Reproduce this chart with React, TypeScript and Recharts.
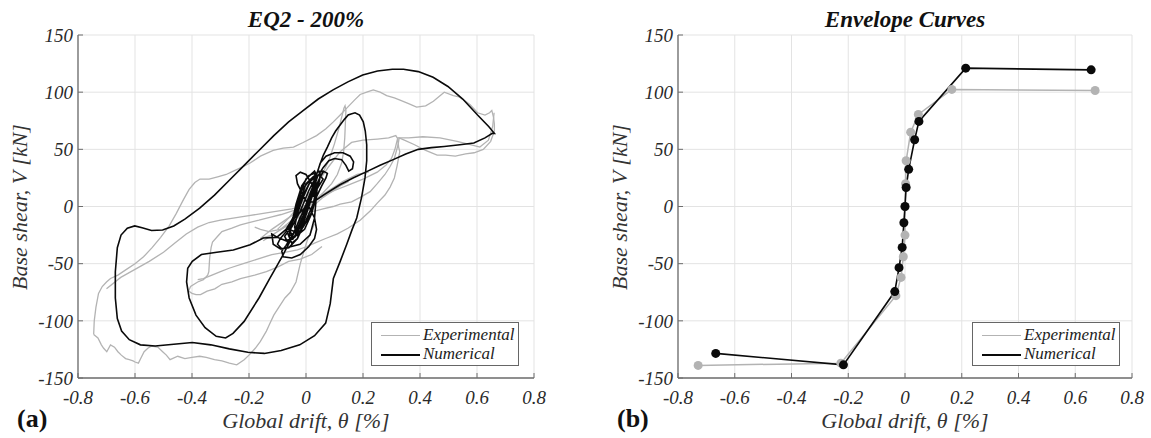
import React from 'react';
import { LineChart, Line, XAxis, YAxis, CartesianGrid, Legend } from 'recharts';

type P = [number, number];

// ---------- axis ticks ----------
const xTicks = [-0.8, -0.6, -0.4, -0.2, 0, 0.2, 0.4, 0.6, 0.8];
const yTicks = [-150, -100, -50, 0, 50, 100, 150];

// ---------- panel (a): EQ2 - 200% hysteresis ----------
// Numerical (black) path in pieces
const numTangle: P[] = [
  [0, 0], [0.02, 12], [0.035, 24], [0.03, 29], [0.01, 27], [-0.015, 18], [-0.035, 2], [-0.05, -15],
  [-0.06, -26], [-0.05, -32], [-0.03, -28], [-0.01, -15], [0.01, 0], [0.03, 15], [0.05, 26], [0.06, 30],
  [0.045, 31], [0.02, 24], [-0.01, 10], [-0.04, -8], [-0.07, -22], [-0.09, -28], [-0.1, -33], [-0.085, -37],
  [-0.06, -36], [-0.03, -28], [0, -12], [0.03, 5], [0.055, 18], [0.07, 25], [0.075, 29], [0.06, 31],
];
const numCrescent: P[] = [
  [0.04, 30], [0.05, 38], [0.07, 44], [0.1, 47], [0.13, 47], [0.155, 44], [0.167, 39], [0.163, 33],
  [0.15, 31], [0.14, 36], [0.125, 41], [0.1, 42], [0.08, 40], [0.06, 34], [0.04, 26], [0.02, 15],
];
const numTangle2: P[] = [
  [0, 2], [-0.02, -10], [-0.045, -24], [-0.07, -34], [-0.085, -39], [-0.08, -44], [-0.05, -45],
  [-0.02, -42], [0.01, -35], [0.03, -28], [0.037, -20], [0.03, -10], [0.01, 0], [-0.01, 10], [-0.03, 20],
  [-0.035, 27], [-0.02, 30], [0, 28], [0.02, 20], [0.03, 8], [0.02, -5], [-0.01, -18], [-0.04, -27],
  [-0.07, -30], [-0.1, -27], [-0.12, -24], [-0.115, -33], [-0.09, -37], [-0.068, -36], [-0.021, -33],
  [0.014, -25], [0.03, -10], [0.035, 5], [0.04, 18], [0.025, 26], [0, 20], [-0.02, 5], [-0.04, -10],
  [-0.06, -20], [-0.04, -22], [-0.01, -12], [0.01, 0],
];
const numTangle3: P[] = [
  [0.025, 14], [0.04, 26], [0.03, 31], [0, 24], [-0.025, 8], [-0.045, -10], [-0.055, -22], [-0.045, -28],
  [-0.02, -18], [0.005, -2], [0.02, 10], [0.045, 20], [0.05, 28], [0.035, 26], [0.01, 14], [-0.02, -4],
  [-0.05, -18], [-0.075, -26], [-0.065, -31], [-0.04, -26], [-0.01, -10], [0.015, 6], [0.04, 16],
  [0.06, 24], [0.045, 28], [0.015, 22], [-0.01, 8], [-0.03, -6], [-0.04, -18], [-0.03, -25],
  [-0.005, -20], [0.02, -6], [0.035, 8], [0.03, 18], [0.01, 22], [-0.015, 14], [-0.03, 0], [-0.05, -12],
  [-0.07, -20], [-0.06, -26], [-0.035, -22], [-0.01, -8], [0.01, 4],
];
const numLowerBranch: P[] = [
  [0.026, 4], [0.061, 10], [0.119, 19], [0.165, 25], [0.213, 30.5], [0.26, 36], [0.306, 41], [0.35, 46],
  [0.394, 50], [0.44, 51.5], [0.485, 52.5], [0.54, 54], [0.589, 55.5], [0.628, 60], [0.654, 64], [0.661, 64],
];
const numUpperBranch: P[] = [
  [0.641, 70], [0.602, 80], [0.55, 94], [0.498, 105], [0.446, 113], [0.394, 118], [0.342, 120],
  [0.303, 120], [0.251, 118.5], [0.199, 115], [0.147, 109], [0.095, 102], [0.043, 94], [-0.009, 84],
  [-0.061, 74], [-0.113, 62], [-0.165, 49], [-0.217, 36], [-0.269, 23], [-0.321, 10], [-0.373, -1.5],
  [-0.425, -11], [-0.464, -17], [-0.503, -20.5], [-0.542, -21], [-0.575, -18.5], [-0.601, -17], [-0.627, -19],
];
const numLeftBottom: P[] = [
  [-0.649, -25], [-0.662, -36], [-0.669, -57], [-0.669, -80], [-0.662, -98], [-0.647, -109],
  [-0.62, -116.5], [-0.581, -121], [-0.529, -122], [-0.464, -120.5], [-0.399, -119], [-0.334, -121],
  [-0.269, -124.5], [-0.204, -127.5], [-0.146, -128.5], [-0.087, -126], [-0.022, -121], [0.03, -113],
  [0.069, -102],
];
const numMediumLoop: P[] = [
  [0.085, -85], [0.096, -63], [0.12, -48], [0.143, -33], [0.162, -20], [0.178, -10], [0.195, 8],
  [0.207, 25], [0.213, 40], [0.213, 54], [0.208, 66], [0.201, 74], [0.188, 80], [0.172, 82],
  [0.158, 81], [0.148, 80], [0.134, 76], [0.119, 71], [0.104, 66], [0.09, 60], [0.075, 52],
  [0.061, 45], [0.049, 37], [0.037, 28], [0.02, 13], [0, 0], [-0.021, -10], [-0.05, -27.5],
  [-0.08, -42], [-0.109, -55], [-0.126, -62.5], [-0.165, -80], [-0.217, -100.5], [-0.256, -111],
  [-0.282, -115], [-0.315, -113.5], [-0.354, -106], [-0.386, -95], [-0.41, -80], [-0.419, -66],
  [-0.415, -54], [-0.399, -48], [-0.367, -42], [-0.313, -40], [-0.255, -38], [-0.196, -33.5],
  [-0.15, -27.5], [-0.103, -27], [-0.07, -20], [-0.04, -10], [0, 0],
];

// Experimental (grey) curves
const expUpper: P[] = [
  [-0.745, -112], [-0.743, -100], [-0.737, -88], [-0.728, -76], [-0.715, -70], [-0.7, -66], [-0.686, -63],
  [-0.66, -60], [-0.63, -55], [-0.6, -50], [-0.57, -44], [-0.54, -36], [-0.51, -27], [-0.48, -17],
  [-0.455, -6], [-0.43, 6], [-0.41, 15], [-0.39, 21], [-0.372, 24], [-0.34, 24], [-0.31, 26], [-0.28, 28],
  [-0.255, 31], [-0.22, 35], [-0.196, 38], [-0.16, 44], [-0.115, 49], [-0.08, 51], [-0.044, 52],
  [-0.01, 56], [0.037, 62], [0.07, 68], [0.096, 74], [0.12, 80], [0.143, 86], [0.17, 93], [0.19, 98],
  [0.213, 100], [0.236, 102], [0.26, 100], [0.283, 97], [0.31, 95], [0.33, 93], [0.36, 90], [0.388, 87],
  [0.42, 88], [0.447, 92], [0.485, 100], [0.517, 97], [0.537, 96], [0.56, 92], [0.576, 89], [0.602, 82],
  [0.628, 80], [0.644, 82], [0.652, 84], [0.658, 78], [0.661, 72], [0.661, 66], [0.648, 57], [0.622, 50],
  [0.59, 47], [0.56, 46], [0.524, 44], [0.49, 45], [0.46, 45], [0.42, 49], [0.381, 54], [0.345, 58],
  [0.327, 60], [0.323, 54], [0.31, 42], [0.295, 35], [0.277, 28], [0.25, 20], [0.225, 13], [0.19, 8],
  [0.16, 4], [0.12, 2], [0.095, 0], [0.06, -2], [0.03, -4], [-0.01, -7],
];
const expBottom: P[] = [
  [0.03, -15], [0.004, -30], [-0.02, -50], [-0.035, -66], [-0.055, -75], [-0.074, -80], [-0.095, -88],
  [-0.113, -95], [-0.13, -104], [-0.139, -109], [-0.16, -118], [-0.178, -124], [-0.2, -130], [-0.217, -134],
  [-0.243, -138.5], [-0.269, -137], [-0.295, -135], [-0.321, -134], [-0.35, -132], [-0.373, -131],
  [-0.4, -132], [-0.425, -133], [-0.45, -131], [-0.477, -134], [-0.49, -130], [-0.503, -127], [-0.52, -123],
  [-0.542, -122], [-0.555, -124], [-0.568, -127], [-0.58, -133], [-0.588, -137], [-0.6, -136],
  [-0.607, -135], [-0.62, -134], [-0.633, -133], [-0.648, -130], [-0.66, -127], [-0.672, -123],
  [-0.686, -121], [-0.699, -127], [-0.71, -124], [-0.718, -121], [-0.73, -115], [-0.745, -112],
];
const expMidLow: P[] = [
  [0.056, -35], [0.02, -42], [-0.02, -46], [-0.061, -48], [-0.1, -53], [-0.139, -57], [-0.18, -60],
  [-0.23, -63], [-0.26, -66], [-0.295, -68], [-0.32, -72], [-0.347, -74], [-0.37, -77], [-0.386, -77],
  [-0.4, -76], [-0.412, -74], [-0.405, -70], [-0.38, -66], [-0.36, -64], [-0.345, -60], [-0.341, -57],
  [-0.338, -45], [-0.333, -36], [-0.328, -31], [-0.31, -26], [-0.295, -22], [-0.26, -19], [-0.23, -16],
  [-0.2, -14], [-0.165, -12], [-0.12, -9], [-0.087, -7], [-0.05, -4], [0, 0],
];
const expRightMid: P[] = [
  [0, 2], [0.05, 8], [0.1, 14], [0.15, 19], [0.2, 24], [0.25, 30], [0.28, 36], [0.3, 42], [0.312, 50],
  [0.318, 56], [0.322, 60], [0.325, 52], [0.329, 48], [0.32, 36], [0.31, 25], [0.295, 17], [0.277, 10],
  [0.25, 3], [0.225, -4], [0.19, -12], [0.147, -19], [0.11, -24], [0.069, -28], [0.03, -32], [0.004, -35],
  [-0.03, -38], [-0.07, -40], [-0.12, -42], [-0.17, -46], [-0.22, -50], [-0.27, -54], [-0.3, -57],
  [-0.33, -60], [-0.36, -63], [-0.38, -64],
];
const expSpike: P[] = [
  [-0.1, -20], [-0.06, -10], [-0.02, 2], [0.02, 14], [0.05, 25], [0.08, 40], [0.1, 55], [0.115, 68],
  [0.125, 78], [0.133, 86], [0.137, 88], [0.14, 84], [0.138, 72], [0.136, 60], [0.132, 48], [0.125, 38],
  [0.11, 28], [0.09, 20], [0.06, 12], [0.03, 5], [0, -3], [-0.03, -10], [-0.06, -16], [-0.09, -20],
  [-0.13, -22], [-0.16, -20], [-0.18, -18],
];
const expShelf: P[] = [
  [0, 5], [0.04, 20], [0.08, 35], [0.12, 48], [0.16, 56], [0.2, 58], [0.25, 59], [0.29, 60], [0.315, 62],
  [0.32, 60], [0.36, 60], [0.41, 61], [0.47, 60], [0.53, 57], [0.58, 54], [0.61, 52], [0.64, 58],
  [0.655, 70], [0.66, 82],
];
const expCore: P[] = [
  [-0.15, -30], [-0.1, -22], [-0.05, -12], [0, -2], [0.05, 8], [0.1, 16], [0.15, 22], [0.12, 18],
  [0.06, 8], [0, -5], [-0.06, -16], [-0.12, -25], [-0.16, -28], [-0.12, -20], [-0.05, -8], [0.02, 4],
  [0.08, 14], [0.13, 22], [0.18, 28], [0.22, 30],
];
const expLeftMid: P[] = [
  [-0.7, -72], [-0.65, -62], [-0.6, -55], [-0.55, -48], [-0.5, -40], [-0.46, -32], [-0.42, -24],
  [-0.38, -18], [-0.34, -14], [-0.3, -12], [-0.25, -10], [-0.2, -8], [-0.15, -6], [-0.1, -4],
  [-0.05, -2], [0, 1],
];

// ---------- panel (b): envelope curves ----------
const envExpX = [-0.729, -0.226, -0.032, -0.014, -0.006, 0, 0, 0.002, 0.004, 0.02, 0.047, 0.165, 0.67];
const envExpV = [-139, -137, -78, -62, -44, -25, 0, 20, 40, 65, 80.5, 102.4, 101.5];
const envNumX = [-0.667, -0.217, -0.036, -0.021, -0.01, -0.004, 0, 0.004, 0.013, 0.034, 0.049, 0.214, 0.656];
const envNumV = [-128.5, -138.5, -74.4, -53.5, -35.8, -14.2, 0, 16.6, 32.5, 58.4, 74.4, 121, 119.5];

// ---------- helpers ----------
const rows = (pts: P[]) => pts.map(([x, y]) => ({ x, y }));
const zipRows = (xs: number[], ys: number[]) => xs.map((x, i) => ({ x, y: ys[i] }));

const numericalPath = rows([
  ...numTangle, ...numCrescent, ...numTangle2, ...numTangle3, ...numLowerBranch, ...numUpperBranch,
  ...numLeftBottom, ...numMediumLoop,
]);
const experimentalPaths = [expUpper, expBottom, expMidLow, expRightMid, expSpike, expShelf, expCore, expLeftMid].map(rows);

const FONT = "'Liberation Serif', 'Times New Roman', serif";
const AX = '#6e6e6e';
const GREY = '#b3b3b3';
const BLACK = '#0a0a0a';
const tickStyle = { fontSize: 19, fontStyle: 'italic', fill: '#2a2a2a', fontFamily: FONT };

const LegendBox = () => (
  <div
    style={{
      width: 148, height: 44, boxSizing: 'border-box', border: '1px solid #666', background: '#fff',
      position: 'relative', fontFamily: FONT, fontStyle: 'italic', fontSize: 17, color: '#222',
    }}
  >
    <div style={{ position: 'absolute', left: 9, top: 12, width: 39, height: 0, borderTop: `1.5px solid ${GREY}` }} />
    <div style={{ position: 'absolute', left: 51, top: 3, lineHeight: '17px', whiteSpace: 'nowrap' }}>Experimental</div>
    <div style={{ position: 'absolute', left: 9, top: 31, width: 39, height: 0, borderTop: `2px solid ${BLACK}` }} />
    <div style={{ position: 'absolute', left: 51, top: 22, lineHeight: '17px', whiteSpace: 'nowrap' }}>Numerical</div>
  </div>
);

function axes(yWidth: number) {
  return [
    <CartesianGrid key="g" stroke="#e3e3e3" strokeWidth={1} />,
    <XAxis
      key="xb" type="number" dataKey="x" domain={[-0.8, 0.8]} ticks={xTicks} interval={0} allowDataOverflow
      height={60} axisLine={{ stroke: AX, strokeWidth: 1.3 }} tickLine={{ stroke: AX }} tickSize={-5}
      tickMargin={18} tick={tickStyle} tickFormatter={(v: number) => String(v)}
    />,
    <XAxis
      key="xt" xAxisId="top" orientation="top" type="number" dataKey="x" domain={[-0.8, 0.8]} ticks={xTicks}
      interval={0} height={0} axisLine={{ stroke: AX, strokeWidth: 1.3 }} tickLine={{ stroke: AX }}
      tickSize={-5} tick={false}
    />,
    <YAxis
      key="yl" type="number" domain={[-150, 150]} ticks={yTicks} interval={0} allowDataOverflow width={yWidth}
      axisLine={{ stroke: AX, strokeWidth: 1.3 }} tickLine={{ stroke: AX }} tickSize={-5} tickMargin={10}
      tick={tickStyle}
    />,
    <YAxis
      key="yr" yAxisId="right" orientation="right" type="number" domain={[-150, 150]} ticks={yTicks}
      interval={0} width={0} axisLine={{ stroke: AX, strokeWidth: 1.3 }} tickLine={{ stroke: AX }}
      tickSize={-5} tick={false}
    />,
  ];
}

const textBase: React.CSSProperties = { position: 'absolute', fontFamily: FONT, whiteSpace: 'nowrap' };

function Labels({ cx, yLabelX, tag, tagX, title }: { cx: number; yLabelX: number; tag: string; tagX: number; title: string }) {
  return (
    <>
      <div style={{ ...textBase, left: cx - 200, top: 8, width: 400, textAlign: 'center', fontSize: 23, lineHeight: '23px', fontWeight: 'bold', fontStyle: 'italic', color: '#111' }}>
        {title}
      </div>
      <div style={{ ...textBase, left: cx - 200, top: 410, width: 400, textAlign: 'center', fontSize: 22, lineHeight: '22px', fontStyle: 'italic', color: '#333' }}>
        Global drift, θ [%]
      </div>
      <div style={{ ...textBase, left: yLabelX - 150, top: 207 - 11, width: 300, height: 22, textAlign: 'center', fontSize: 22, lineHeight: '22px', fontStyle: 'italic', color: '#333', transform: 'rotate(-90deg)' }}>
        Base shear, V [kN]
      </div>
      <div style={{ ...textBase, left: tagX, top: 406, fontSize: 26, lineHeight: '26px', fontWeight: 'bold', color: '#111' }}>
        {tag}
      </div>
    </>
  );
}

export default function App() {
  return (
    <div style={{ position: 'absolute', left: 0, top: 0, width: 1151, height: 438, background: '#fff', overflow: 'hidden' }}>
      <div style={{ position: 'absolute', left: 0, top: 0 }}>
        <LineChart width={580} height={438} margin={{ top: 35, right: 46, bottom: 0, left: 0 }}>
          {axes(78)}
          {experimentalPaths.map((d, i) => (
            <Line key={'e' + i} data={d} dataKey="y" type="linear" stroke={GREY} strokeWidth={1.3} dot={false} activeDot={false} isAnimationActive={false} />
          ))}
          <Line data={numericalPath} dataKey="y" type="linear" stroke={BLACK} strokeWidth={1.6} dot={false} activeDot={false} isAnimationActive={false} />
          <Legend layout="horizontal" verticalAlign="middle" align="center" content={() => <LegendBox />} wrapperStyle={{ left: 371, top: 322, width: 148, height: 44 }} />
        </LineChart>
      </div>
      <div style={{ position: 'absolute', left: 580, top: 0 }}>
        <LineChart width={571} height={438} margin={{ top: 35, right: 19, bottom: 0, left: 0 }}>
          {axes(98)}
          <Line data={zipRows(envExpX, envExpV)} dataKey="y" type="linear" stroke={GREY} strokeWidth={1.5}
            dot={{ r: 4.5, fill: GREY, stroke: GREY, strokeWidth: 0 }} activeDot={false} isAnimationActive={false} />
          <Line data={zipRows(envNumX, envNumV)} dataKey="y" type="linear" stroke={BLACK} strokeWidth={1.6}
            dot={{ r: 4.5, fill: BLACK, stroke: BLACK, strokeWidth: 0 }} activeDot={false} isAnimationActive={false} />
          <Legend layout="horizontal" verticalAlign="middle" align="center" content={() => <LegendBox />} wrapperStyle={{ left: 392, top: 322, width: 148, height: 44 }} />
        </LineChart>
      </div>
      <Labels cx={306} yLabelX={20} tag="(a)" tagX={17} title="EQ2 - 200%" />
      <Labels cx={905} yLabelX={620} tag="(b)" tagX={617} title="Envelope Curves" />
    </div>
  );
}
